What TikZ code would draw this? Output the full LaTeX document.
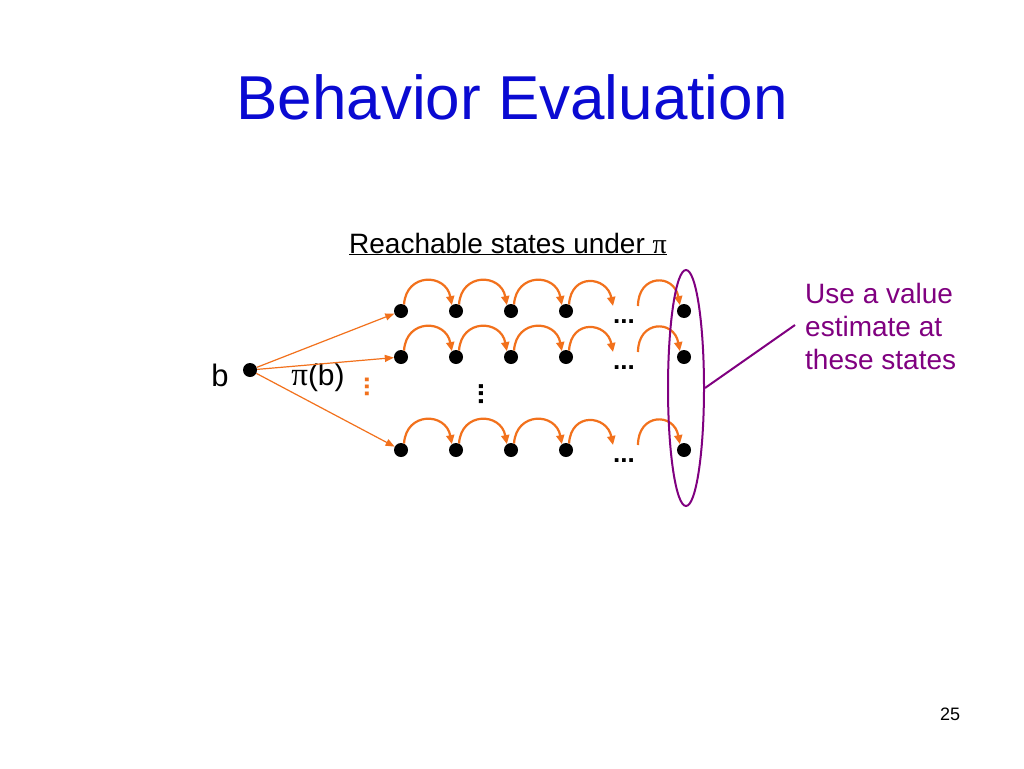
\documentclass[tikz,border=0pt]{standalone}
\usepackage{fontspec}
\setmainfont{Liberation Sans}
\newfontfamily\grk{Liberation Serif}
\usetikzlibrary{arrows.meta,shapes.geometric}
\definecolor{ttlblue}{RGB}{10,10,210}
\definecolor{arcorange}{RGB}{242,113,28}
\definecolor{annpurple}{RGB}{128,0,128}
\tikzset{
  state/.style={circle,fill=black,inner sep=0pt,minimum size=14pt},
  arc/.style={draw=arcorange,line width=2.2pt,-{Triangle[width=8pt,length=9pt]}},
  act/.style={draw=arcorange,line width=1.2pt,-{Triangle[width=7pt,length=9pt]}},
  etc/.style={font=\fontsize{26}{26}\selectfont\bfseries,inner sep=0pt,anchor=base},
  ann/.style={anchor=base west,text=annpurple,font=\fontsize{28}{28}\selectfont,inner sep=0pt},
}
\begin{document}
\begin{tikzpicture}[x=1pt,y=-1pt]
\useasboundingbox[fill=white] (0,0) rectangle (1024,768);
% title
\node[anchor=base,text=ttlblue,font=\fontsize{62}{62}\selectfont,inner sep=0pt] (title) at (512,119) {Behavior Evaluation};
% heading
\node[anchor=base,font=\fontsize{28}{28}\selectfont,inner sep=0pt] (head) at (508,253) {\underline{Reachable states under {\grk π}}};
% root
\node[state] (b) at (250,370) {};
\node[anchor=base,font=\fontsize{31}{31}\selectfont,inner sep=0pt] (blab) at (220,386) {b};
\node[anchor=base,font=\fontsize{30}{30}\selectfont,inner sep=0pt] (pib) at (318,385) {{\grk\fontsize{33}{33}\selectfont π}(b)};
\node[inner sep=0pt,text=arcorange,font=\fontsize{26}{26}\selectfont\bfseries] (ovd) at (367,387) {\rotatebox{90}{...}};
\node[inner sep=0pt,font=\fontsize{28}{28}\selectfont\bfseries] (bvd) at (481,394) {\rotatebox{90}{...}};
% rows
\foreach \r/\y in {1/311,2/357,3/450}{
  \foreach \c/\x in {1/401,2/456,3/511,4/566,5/684}{
    \node[state] (n\r\c) at (\x,\y) {};
  }
  \node[etc] (d\r) at (624,\y+12) {...};
  \coordinate (e\r) at (613,\y-5);
  \coordinate (s\r) at (638,\y-5);
  \draw[arc] (n\r1.65) .. controls +(2,-32) and +(-6,-32) .. (n\r2.125);
  \draw[arc] (n\r2.65) .. controls +(2,-32) and +(-6,-32) .. (n\r3.125);
  \draw[arc] (n\r3.65) .. controls +(2,-32) and +(-6,-32) .. (n\r4.125);
  \draw[arc] (n\r4.65) .. controls +(2,-32) and +(-6,-30) .. (e\r);
  \draw[arc] (s\r) .. controls +(0,-32) and +(-6,-32) .. (n\r5.125);
}
% actions from b
\draw[act] (b) -- (n11);
\draw[act] (b) -- (n21);
\draw[act] (b) -- (n31);
% ellipse and annotation
\node[draw=annpurple,line width=2pt,ellipse,inner sep=0pt,minimum width=36pt,minimum height=236pt] (ell) at (686,388) {};
\coordinate (callout) at (795,325);
\draw[annpurple,line width=2pt] (ell.east) -- (callout);
\node[ann] (u1) at (805,303) {Use a value};
\node[ann] (u2) at (805,336) {estimate at};
\node[ann] (u3) at (805,369) {these states};
% page number
\node[anchor=base,font=\fontsize{18}{18}\selectfont,inner sep=0pt] (pg) at (950,720) {25};
\end{tikzpicture}
\end{document}
